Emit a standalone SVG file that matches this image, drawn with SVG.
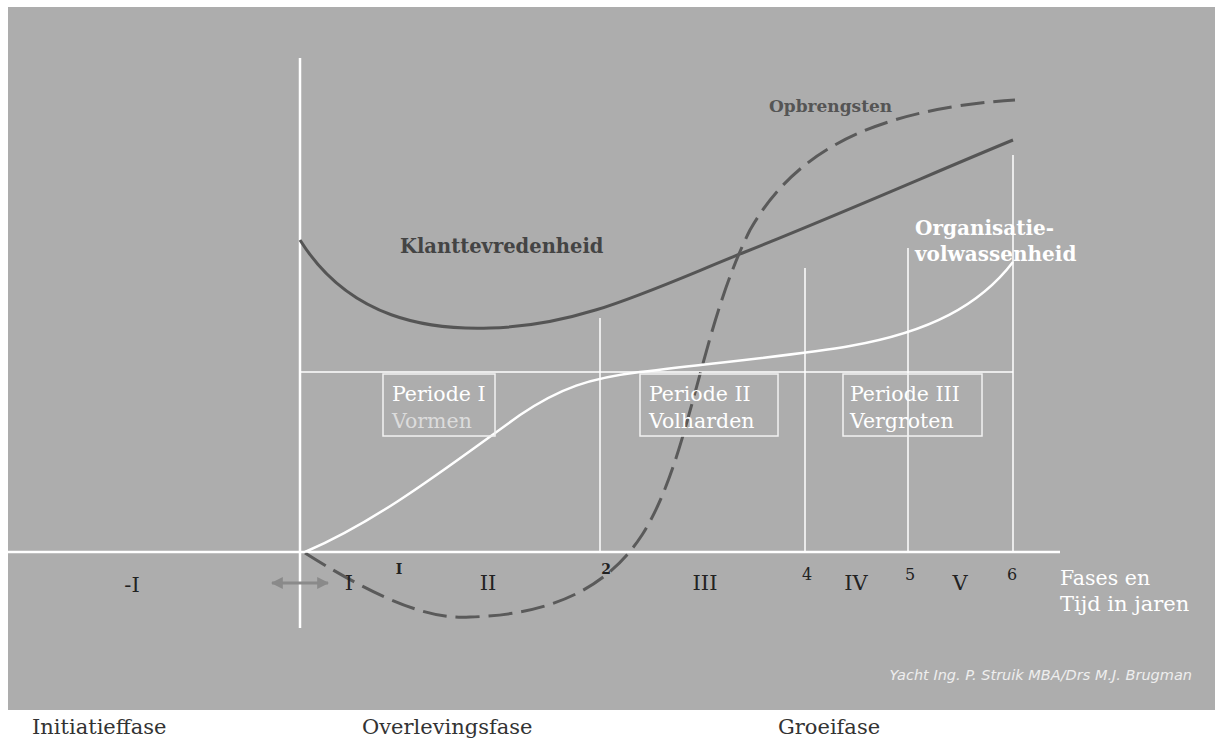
<svg xmlns="http://www.w3.org/2000/svg" width="1215" height="742" viewBox="0 0 1215 742">
<defs>
<style>
.ax{stroke:#fff;stroke-width:2.5;fill:none}
.vl{stroke:#fff;stroke-width:1.5;fill:none}
.t{font-family:"DejaVu Serif","Liberation Serif",serif}
.w{fill:#fff}
.d{fill:#222}
.box{fill:none;stroke:#f2f2f2;stroke-width:1.5}
</style>
<marker id="ah" viewBox="0 0 10 10" refX="9" refY="5" markerWidth="4" markerHeight="4" orient="auto-start-reverse"><path d="M0,0 L10,5 L0,10 z" fill="#8a8a8a"/></marker>
</defs>
<rect x="0" y="0" width="1215" height="742" fill="#fff"/>
<rect x="8" y="7" width="1207" height="703" fill="#adadad"/>
<g id="axes">
<line class="ax" x1="300" y1="58" x2="300" y2="628"/>
<line class="ax" x1="8" y1="552" x2="1060" y2="552"/>
<line class="vl" x1="300" y1="372" x2="1013" y2="372"/>
<line class="vl" x1="600" y1="318" x2="600" y2="552"/>
<line class="vl" x1="805" y1="268" x2="805" y2="552"/>
<line class="vl" x1="908" y1="248" x2="908" y2="552"/>
<line class="vl" x1="1013" y1="155" x2="1013" y2="552"/>
</g>
<g id="connectors">
<path d="M300,240 C350,320 430,330 490,328 C580,326 650,290 745,252 C850,210 940,170 1013,140" fill="none" stroke="#555" stroke-width="3"/>
<path d="M305,553 C380,600 430,620 470,617 C545,615 605,592 642,535 C690,460 700,330 750,230 C790,160 860,110 1015,100" fill="none" stroke="#5a5a5a" stroke-width="3" stroke-dasharray="24,9"/>
<path d="M305,552 C380,520 450,465 520,415 C560,388 590,378 640,372 C720,362 800,355 850,346 C930,332 980,305 1013,262" fill="none" stroke="#fff" stroke-width="2.5"/>
<line x1="272" y1="583" x2="328" y2="583" stroke="#8a8a8a" stroke-width="3" marker-start="url(#ah)" marker-end="url(#ah)"/>
</g>
<g id="periode1">
<rect class="box" x="383" y="374" width="112" height="62"/>
<text class="t w" x="392" y="401" font-size="20.5">Periode I</text>
<text class="t" x="392" y="428" font-size="20.5" fill="#dcdcdc">Vormen</text>
</g>
<g id="periode2">
<rect class="box" x="640" y="374" width="138" height="62"/>
<text class="t w" x="649" y="401" font-size="20.5">Periode II</text>
<text class="t w" x="649" y="428" font-size="20.5">Volharden</text>
</g>
<g id="periode3">
<rect class="box" x="843" y="374" width="139" height="62"/>
<text class="t w" x="850" y="401" font-size="20.5">Periode III</text>
<text class="t w" x="850" y="428" font-size="20.5">Vergroten</text>
</g>
<g id="labels">
<text class="t" x="400" y="253" font-size="19.5" font-weight="bold" fill="#444">Klanttevredenheid</text>
<text class="t" x="769" y="112" font-size="17" font-weight="bold" fill="#555">Opbrengsten</text>
<text class="t w" x="915" y="235" font-size="20" font-weight="bold">Organisatie-</text>
<text class="t w" x="915" y="261" font-size="20" font-weight="bold">volwassenheid</text>
</g>
<g id="ticks" class="t d" font-size="21">
<text x="132" y="592" text-anchor="middle">-I</text>
<text x="349" y="590" text-anchor="middle">I</text>
<text x="399" y="574" text-anchor="middle" font-size="14" font-weight="bold">I</text>
<text x="488" y="590" text-anchor="middle">II</text>
<text x="606" y="574" text-anchor="middle" font-size="14" font-weight="bold">2</text>
<text x="705" y="590" text-anchor="middle">III</text>
<text x="807" y="580" text-anchor="middle" font-size="16">4</text>
<text x="856" y="590" text-anchor="middle">IV</text>
<text x="910" y="580" text-anchor="middle" font-size="16">5</text>
<text x="960" y="590" text-anchor="middle">V</text>
<text x="1012" y="580" text-anchor="middle" font-size="16">6</text>
</g>
<g id="axis-label">
<text class="t w" x="1060" y="585" font-size="20.5">Fases en</text>
<text class="t w" x="1060" y="611" font-size="21">Tijd in jaren</text>
</g>
<g id="credit">
<text x="1192" y="680" text-anchor="end" font-family="DejaVu Sans, sans-serif" font-style="italic" font-size="14.5" fill="#eee">Yacht Ing. P. Struik MBA/Drs M.J. Brugman</text>
</g>
<g id="phases" class="t" font-size="21" fill="#333">
<text x="32" y="734">Initiatieffase</text>
<text x="362" y="734">Overlevingsfase</text>
<text x="778" y="734">Groeifase</text>
</g>
</svg>
